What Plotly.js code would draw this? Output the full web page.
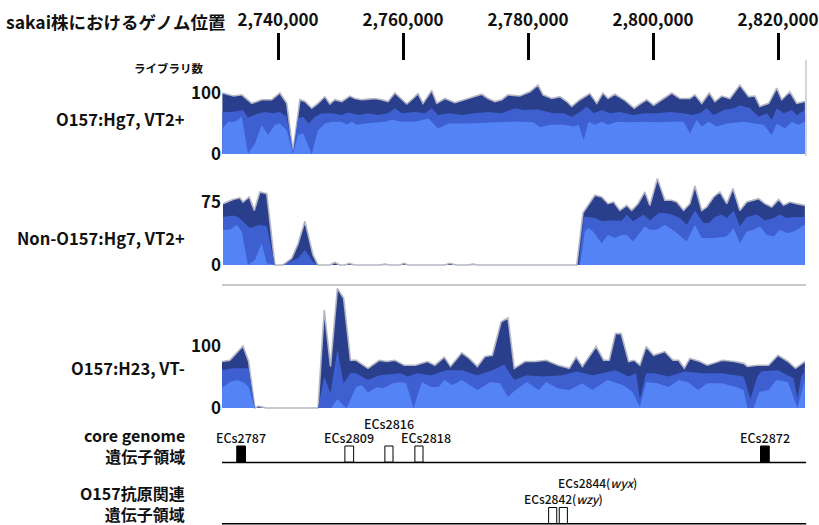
<!DOCTYPE html>
<html>
<head>
<meta charset="utf-8">
<script src="https://cdn.plot.ly/plotly-3.0.1.min.js"></script>
<style>html,body{margin:0;padding:0;background:#fff;}#chart{width:819px;height:525px;}</style>
</head>
<body>
<div id="chart"></div>
<script>
// ---- data: genome positions in kb (sakai strain), library counts (cumulative tops of each layer) ----
const tickPosKb = [2740, 2760, 2780, 2800, 2820];
const tickLabels = ["2,740,000", "2,760,000", "2,780,000", "2,800,000", "2,820,000"];
const viewKb = [2731.04, 2824.32];

const panelNames = ["O157:Hg7, VT2+", "Non-O157:Hg7, VT2+", "O157:H23, VT-"];
const panelTicks = [[0, 100], [0, 75], [0, 100]];

// Panel 1: O157:Hg7, VT2+
const p1Dark = [[2731.1,100],[2732.0,97],[2732.9,95],[2734.2,97],[2735.8,83],[2737.4,89],[2739.0,89],[2740.3,100],[2741.4,83],[2742.4,4],[2743.5,89],[2744.3,86],[2745.4,75],[2746.4,83],[2747.5,94],[2748.3,82],[2749.1,89],[2750.2,86],[2751.5,95],[2752.3,91],[2753.4,89],[2754.4,90],[2755.5,91],[2756.6,89],[2757.6,86],[2758.7,100],[2759.8,89],[2760.6,82],[2761.4,89],[2762.4,99],[2763.2,83],[2764.6,104],[2765.4,83],[2766.7,91],[2768.3,84],[2769.9,89],[2771.5,94],[2772.6,98],[2773.6,91],[2774.7,86],[2775.8,89],[2776.8,97],[2778.7,95],[2780.3,102],[2781.6,113],[2782.4,97],[2783.8,91],[2785.1,94],[2786.2,86],[2787.0,78],[2788.3,89],[2789.9,99],[2791.0,83],[2792.0,100],[2792.8,91],[2793.9,98],[2795.5,88],[2797.0,75],[2798.2,84],[2799.0,89],[2800.1,80],[2801.6,91],[2803.0,100],[2804.3,91],[2805.9,91],[2806.7,97],[2807.8,83],[2809.0,100],[2809.9,86],[2811.0,95],[2812.3,91],[2813.9,113],[2815.3,94],[2816.3,95],[2817.1,78],[2818.5,83],[2819.8,108],[2820.6,89],[2821.9,102],[2823.0,83],[2824.3,86]];
const p1Mid = [[2731.1,69],[2732.6,69],[2734.4,72],[2735.2,60],[2736.9,67],[2737.9,69],[2739.2,67],[2740.3,69],[2741.4,61],[2742.4,4],[2743.2,58],[2744.0,61],[2744.9,50],[2745.9,61],[2747.0,67],[2748.6,67],[2750.2,64],[2751.2,68],[2752.9,64],[2754.4,67],[2756.0,64],[2757.6,67],[2758.7,75],[2759.8,67],[2761.9,69],[2763.5,67],[2764.6,75],[2765.6,64],[2767.3,67],[2769.4,64],[2771.5,67],[2773.6,69],[2775.8,67],[2777.9,75],[2779.3,72],[2781.4,73],[2782.4,71],[2784.1,67],[2785.7,67],[2787.0,61],[2788.3,69],[2789.4,78],[2790.5,67],[2791.8,72],[2793.1,67],[2794.7,69],[2796.9,64],[2798.5,67],[2800.6,67],[2802.7,69],[2804.9,67],[2806.2,64],[2807.5,67],[2808.6,75],[2809.7,64],[2811.3,72],[2812.9,75],[2813.9,80],[2815.5,75],[2816.9,61],[2818.2,67],[2819.0,56],[2819.8,75],[2820.9,67],[2822.2,72],[2823.0,64],[2824.3,72]];
const p1Light = [[2731.1,42],[2732.0,53],[2733.1,53],[2734.2,61],[2735.2,1],[2736.3,17],[2737.4,48],[2738.4,31],[2739.5,48],[2740.3,50],[2741.4,39],[2742.4,0],[2743.2,31],[2744.0,34],[2745.4,0],[2746.4,39],[2747.5,50],[2748.6,53],[2750.2,53],[2751.0,48],[2751.8,53],[2752.6,48],[2753.9,50],[2755.5,51],[2757.1,53],[2758.2,56],[2759.8,53],[2761.9,53],[2764.1,58],[2765.6,42],[2767.3,50],[2769.9,50],[2772.6,51],[2775.3,53],[2777.1,53],[2779.3,53],[2780.9,52],[2781.9,44],[2783.5,48],[2785.7,48],[2787.3,45],[2788.1,48],[2788.9,23],[2789.7,53],[2790.7,48],[2791.8,53],[2792.8,48],[2794.2,53],[2796.3,52],[2798.5,53],[2800.6,52],[2802.7,53],[2804.9,53],[2805.9,34],[2807.0,56],[2807.8,45],[2808.9,53],[2810.2,45],[2811.8,50],[2814.5,53],[2816.6,50],[2817.7,48],[2819.0,31],[2819.8,50],[2821.1,42],[2822.2,53],[2823.3,48],[2824.3,53]];

// Panel 2: Non-O157:Hg7, VT2+
const p2Dark = [[2731.2,73],[2732.8,78],[2733.9,80],[2734.4,75],[2735.4,81],[2736.2,65],[2737.1,87],[2738.2,85],[2739.5,0],[2740.8,0],[2742.2,8],[2743.2,25],[2744.3,52],[2745.6,12],[2746.4,0],[2748.3,0],[2749.1,3],[2749.9,0],[2750.7,0],[2751.4,2],[2752.2,0],[2756.3,0],[2757.1,1],[2757.9,0],[2759.5,0],[2760.2,2],[2760.8,0],[2766.7,0],[2767.5,2],[2768.5,0],[2770.4,0],[2771.2,1],[2772.0,0],[2787.8,0],[2788.8,62],[2790.7,83],[2791.8,81],[2792.8,73],[2793.7,75],[2794.7,65],[2795.8,71],[2796.6,65],[2797.6,73],[2798.7,87],[2799.5,71],[2800.7,103],[2801.9,77],[2803.0,77],[2803.8,75],[2804.9,65],[2805.9,73],[2806.7,94],[2807.8,65],[2808.6,69],[2809.7,81],[2810.7,87],[2811.8,73],[2812.8,91],[2813.9,65],[2815.0,75],[2816.9,79],[2817.9,73],[2819.0,69],[2820.1,78],[2820.9,71],[2821.9,75],[2823.0,73],[2824.3,71]];
const p2Mid = [[2731.2,57],[2732.8,59],[2733.6,57],[2735.5,44],[2737.1,48],[2738.2,46],[2739.5,0],[2740.8,0],[2743.2,8],[2744.3,18],[2745.6,4],[2746.4,0],[2788.1,0],[2788.9,57],[2789.7,57],[2790.7,56],[2791.8,52],[2792.8,53],[2793.9,53],[2795.0,53],[2795.8,60],[2796.8,52],[2798.5,60],[2799.5,53],[2800.9,62],[2801.9,62],[2803.0,60],[2804.3,56],[2805.4,48],[2806.7,65],[2808.1,50],[2808.9,50],[2809.9,57],[2811.0,60],[2811.8,56],[2812.9,65],[2813.9,46],[2815.0,57],[2816.6,60],[2817.9,53],[2819.3,56],[2820.3,60],[2821.4,56],[2822.5,57],[2824.3,57]];
const p2Light = [[2731.2,42],[2732.3,42],[2733.4,48],[2734.2,40],[2735.2,0],[2736.3,6],[2737.4,26],[2738.2,2],[2739.5,0],[2788.3,0],[2789.1,40],[2789.7,44],[2790.4,40],[2791.8,26],[2792.8,36],[2793.9,32],[2795.0,36],[2795.8,36],[2796.8,28],[2798.7,46],[2799.5,42],[2800.6,42],[2801.9,48],[2803.5,40],[2805.4,28],[2806.7,48],[2807.8,32],[2809.7,32],[2811.8,34],[2812.9,44],[2813.9,26],[2815.0,40],[2816.1,42],[2817.1,46],[2818.2,36],[2819.3,34],[2820.3,42],[2821.4,38],[2822.5,40],[2824.3,48]];

// Panel 3: O157:H23, VT-
const p3Dark = [[2731.0,75],[2732.3,77],[2734.4,100],[2735.3,75],[2736.3,0],[2736.9,3],[2738.1,0],[2746.4,0],[2747.4,158],[2748.4,67],[2749.5,193],[2750.5,177],[2751.6,77],[2752.5,77],[2754.4,64],[2756.2,77],[2757.4,75],[2758.7,77],[2760.2,69],[2762.0,69],[2763.9,75],[2765.1,69],[2766.6,82],[2767.6,67],[2769.4,89],[2770.6,80],[2771.9,67],[2773.1,83],[2774.3,85],[2775.7,139],[2776.8,145],[2777.8,64],[2779.5,75],[2781.1,75],[2782.9,77],[2784.8,69],[2786.6,64],[2787.7,82],[2788.7,67],[2790.9,99],[2792.1,77],[2793.0,77],[2794.0,120],[2794.9,120],[2796.1,75],[2797.0,77],[2797.9,69],[2798.9,99],[2800.1,85],[2801.9,91],[2803.2,77],[2804.1,77],[2805.0,64],[2805.9,80],[2807.5,75],[2808.7,69],[2811.1,77],[2813.0,75],[2814.5,72],[2815.1,67],[2816.7,69],[2818.5,69],[2820.0,85],[2821.6,75],[2822.8,64],[2824.3,75]];
const p3Mid = [[2731.0,61],[2732.6,64],[2734.4,64],[2735.3,64],[2736.3,0],[2746.4,0],[2747.4,50],[2748.4,24],[2749.5,94],[2750.5,40],[2751.6,57],[2752.5,56],[2754.4,45],[2756.2,53],[2759.6,56],[2760.8,51],[2762.3,56],[2764.5,53],[2766.9,61],[2769.4,61],[2771.9,53],[2774.3,61],[2776.2,70],[2777.8,45],[2779.8,53],[2782.3,51],[2785.4,53],[2787.8,59],[2790.3,53],[2794.0,61],[2796.1,51],[2797.3,56],[2797.9,15],[2798.9,56],[2800.1,56],[2802.5,51],[2805.0,59],[2808.1,56],[2811.1,56],[2814.5,51],[2815.6,15],[2816.7,51],[2817.3,59],[2820.0,61],[2822.5,48],[2823.1,15],[2823.7,50],[2824.3,61]];
const p3Light = [[2731.0,32],[2732.3,42],[2733.5,45],[2734.7,40],[2735.3,34],[2736.3,0],[2748.5,0],[2749.5,14],[2750.4,5],[2751.0,0],[2752.5,34],[2753.4,37],[2754.4,25],[2755.9,34],[2756.8,32],[2758.4,40],[2759.6,42],[2760.5,40],[2761.7,0],[2763.0,42],[2764.5,34],[2765.7,34],[2766.6,45],[2767.9,37],[2769.4,45],[2771.9,29],[2774.0,42],[2775.5,40],[2776.8,18],[2778.0,29],[2779.8,42],[2781.7,29],[2782.9,42],[2784.8,32],[2786.6,29],[2788.7,40],[2790.3,29],[2792.7,45],[2795.2,37],[2796.7,26],[2797.9,2],[2798.9,42],[2800.7,40],[2802.5,34],[2804.1,45],[2805.6,42],[2807.2,29],[2808.7,40],[2811.1,40],[2813.3,34],[2814.5,29],[2815.1,0],[2816.1,0],[2817.0,26],[2818.5,29],[2819.7,45],[2821.6,42],[2823.1,0],[2824.3,45]];

// Gene tracks (kb)
const coreNames = ["ECs2787", "ECs2809", "ECs2816", "ECs2818", "ECs2872"];
const coreStart = [2733.4, 2750.7, 2757.1, 2761.9, 2817.2];
const coreEnd   = [2734.8, 2752.1, 2758.4, 2763.2, 2818.6];
const coreFilled = [true, false, false, false, true];
const agNames = ["ECs2842(<i>wzy</i>)", "ECs2844(<i>wyx</i>)"];
const agStart = [2783.3, 2785.0];
const agEnd   = [2784.6, 2786.3];

// ---- styling / layout ----
const W = 819, H = 525;
const FONT = "Noto Sans CJK JP, Noto Sans, sans-serif";
const COL_LIGHT = "#5483f6", COL_MID = "#3d5fcf", COL_DARK = "#293f8c", COL_EDGE = "#b4b6c4";
const TXT = "#111";
const py = v => 1 - v / H;   // pixel row -> paper fraction
const px = v => v / W;

const panelSets = [[p1Dark, p1Mid, p1Light], [p2Dark, p2Mid, p2Light], [p3Dark, p3Mid, p3Light]];
const yAxisIds = ["y", "y2", "y3"];
const traces = [];
panelSets.forEach((set, i) => {
  const cols = [COL_DARK, COL_MID, COL_LIGHT];
  set.forEach((series, k) => {
    traces.push({
      type: "scatter", mode: "lines",
      x: series.map(d => d[0]), y: series.map(d => d[1]),
      xaxis: "x", yaxis: yAxisIds[i],
      fill: "tozeroy", fillcolor: cols[k],
      line: k === 0 ? {color: COL_EDGE, width: 1.6} : {width: 0, color: cols[k]},
      hoverinfo: "skip"
    });
  });
});

function yax(domPx, zeroPx, unitPx, ticks) {
  const lo = -(domPx[0] - zeroPx) / unitPx;
  const hi = (zeroPx - domPx[1]) / unitPx;
  return {
    domain: [py(domPx[0]), py(domPx[1])], range: [lo, hi], anchor: "x",
    tickvals: ticks, showgrid: false, zeroline: false, showline: false, ticks: "",
    ticklabelstandoff: 0, ticklabeloverflow: "allow",
    tickfont: {family: FONT, size: 17, color: TXT, weight: 600}, fixedrange: true
  };
}

const shapes = [];
shapes.push({type: "line", xref: "paper", yref: "paper", x0: px(806), x1: px(806), y0: py(60), y1: py(156), line: {color: "#c8c8c8", width: 1.5}});
shapes.push({type: "line", xref: "paper", yref: "paper", x0: px(222), x1: px(806), y0: py(285), y1: py(285), line: {color: "#c8c8c8", width: 2}});
shapes.push({type: "line", xref: "x domain", yref: "paper", x0: 0, x1: 1.002, y0: py(462.5), y1: py(462.5), line: {color: "#000", width: 1.5}});
shapes.push({type: "line", xref: "x domain", yref: "paper", x0: 0, x1: 1.002, y0: py(523.8), y1: py(523.8), line: {color: "#000", width: 1.5}});
coreNames.forEach((n, i) => {
  shapes.push({type: "rect", xref: "x", yref: "paper", x0: coreStart[i], x1: coreEnd[i], y0: py(462), y1: py(446),
    fillcolor: coreFilled[i] ? "#000" : "#fff", line: {color: "#000", width: 1}});
});
agNames.forEach((n, i) => {
  shapes.push({type: "rect", xref: "x", yref: "paper", x0: agStart[i], x1: agEnd[i], y0: py(523.5), y1: py(507.5),
    fillcolor: "#fff", line: {color: "#000", width: 1}});
});

const annotations = [];
const txt = (text, x, y, size, anchor, weight) => ({
  text: text, xref: "paper", yref: "paper", x: px(x), y: py(y), xanchor: anchor, yanchor: "middle",
  align: anchor === "right" ? "right" : (anchor === "left" ? "left" : "center"),
  showarrow: false, font: {family: FONT, size: size, color: TXT, weight: weight || 600}
});
annotations.push(txt("sakai株におけるゲノム位置", 4, 22, 17.5, "left"));
annotations.push(txt("ライブラリ数", 168, 68, 11.5, "center", 700));
const panelLabelY = [119, 238, 368];
panelNames.forEach((n, i) => annotations.push(txt(n, 187, panelLabelY[i], 16.5, "right")));
annotations.push(txt("core genome<br>遺伝子領域", 187, 445.5, 16, "right"));
annotations.push(txt("O157抗原関連<br>遺伝子領域", 187, 503, 16, "right"));
const coreLabelY = [437, 437, 423, 437, 437];
const coreLabelShift = [0, 0, 0, 7, 0];
coreNames.forEach((n, i) => annotations.push({
  text: n, xref: "x", yref: "paper", x: (coreStart[i] + coreEnd[i]) / 2, y: py(coreLabelY[i]),
  xanchor: "center", yanchor: "middle", xshift: coreLabelShift[i], showarrow: false,
  font: {family: FONT, size: 12.5, color: TXT, weight: 500}
}));
const agLabelY = [498, 482];
const agLabelShift = [11, 34];
agNames.forEach((n, i) => annotations.push({
  text: n, xref: "x", yref: "paper", x: (agStart[i] + agEnd[i]) / 2, y: py(agLabelY[i]),
  xanchor: "center", yanchor: "middle", xshift: agLabelShift[i], showarrow: false,
  font: {family: FONT, size: 12, color: TXT, weight: 500}
}));

const layout = {
  width: W, height: H, autosize: false,
  margin: {l: 0, r: 0, t: 0, b: 0, pad: 0},
  paper_bgcolor: "#fff", plot_bgcolor: "rgba(0,0,0,0)",
  showlegend: false,
  font: {family: FONT, color: TXT},
  xaxis: {
    domain: [px(222), px(805)], range: viewKb, anchor: "free", position: py(60), side: "top",
    tickvals: tickPosKb, ticktext: tickLabels, ticks: "outside", ticklen: 27, tickwidth: 3, tickcolor: "#000",
    showline: false, showgrid: false, zeroline: false, ticklabeloverflow: "allow",
    tickfont: {family: FONT, size: 17, color: TXT, weight: 600}, fixedrange: true
  },
  yaxis: yax([156, 62], 154, 0.61, panelTicks[0]),
  yaxis2: yax([268, 172], 265, 0.84, panelTicks[1]),
  yaxis3: yax([410, 285], 408, 0.62, panelTicks[2]),
  shapes: shapes,
  annotations: annotations
};

Plotly.newPlot("chart", traces, layout, {staticPlot: true, displayModeBar: false});
</script>
</body>
</html>
